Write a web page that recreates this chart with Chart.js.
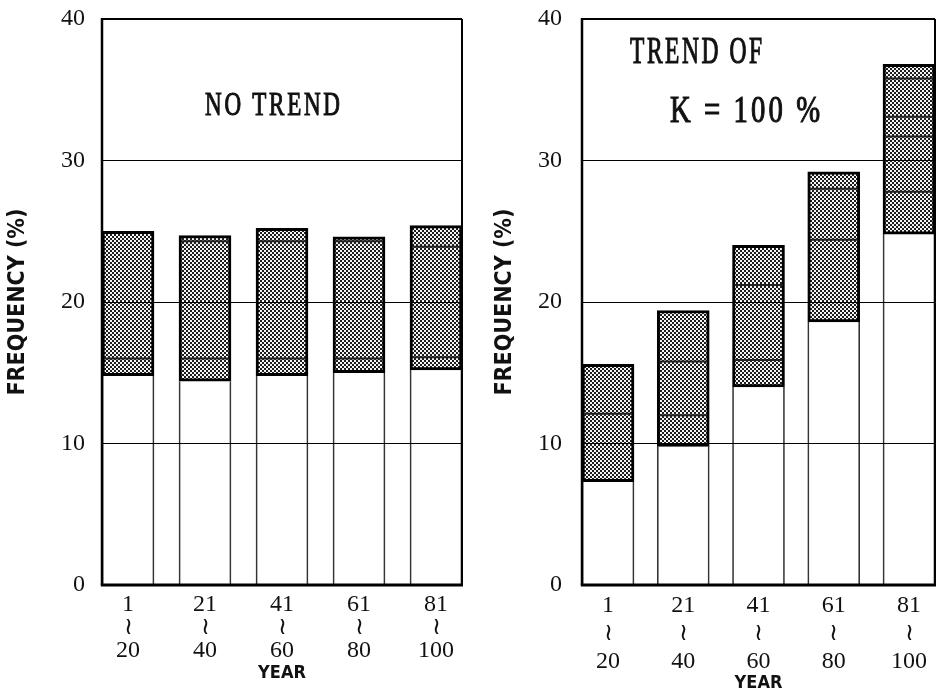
<!DOCTYPE html>
<html><head><meta charset="utf-8">
<script src="https://cdn.jsdelivr.net/npm/chart.js@4"></script>
<style>
html,body{margin:0;padding:0;background:#fff;}
#wrap{position:relative;width:937px;height:693px;overflow:hidden;background:#fff;}
.box{position:absolute;top:0;height:693px;}
#b1{left:0;width:470px;} #b2{left:470px;width:467px;}
</style></head><body>
<div id="wrap">
  <div class="box" id="b1"><canvas id="c1" width="470" height="693"></canvas></div>
  <div class="box" id="b2"><canvas id="c2" width="467" height="693"></canvas></div>
</div>
<script>
// ---- data ----
const periodLabels = [['1','≀','20'],['21','≀','40'],['41','≀','60'],['61','≀','80'],['81','≀','100']];
const yTickValues = [0, 10, 20, 30, 40];
const yTitle = 'FREQUENCY (%)';
const xTitle = 'YEAR';

// left panel: no trend
const noTrendNote = ['NO TREND'];
const noTrendLow  = [14.8, 14.4, 14.8, 15.0, 15.2];
const noTrendHigh = [25.0, 24.7, 25.2, 24.6, 25.4];
const noTrendLineA = [16.0, 16.0, 16.0, 16.0, 16.1];
const noTrendLineB = [null, 24.3, 24.3, 24.3, 23.9];

// right panel: trend K = 100 %
const trendNote = ['TREND OF', 'K = 100 %'];
const trendLow  = [7.3, 9.8, 14.0, 18.6, 24.8];
const trendHigh = [15.6, 19.4, 24.0, 29.2, 36.8];
const trendLineA = [12.1, 12.0, 15.9, 24.4, 27.8];
const trendLineB = [null, 15.8, 21.2, 28.0, 31.7];
const trendLineC = [null, null, null, null, 33.1];
const trendLineD = [null, null, null, null, 35.8];

// ---- styling ----
const TICK_FONT = "'Liberation Serif', 'DejaVu Serif', serif";
const TITLE_FONT = "'DejaVu Sans Condensed', 'DejaVu Sans', sans-serif";
const NOTE_FONT = "'Liberation Serif', 'DejaVu Serif', serif";

function stipple(ctx){
  const c = document.createElement('canvas'); c.width = 4; c.height = 4;
  const g = c.getContext('2d');
  g.fillStyle = '#f4f4f4'; g.fillRect(0,0,4,4);
  g.fillStyle = '#1e1e1e'; g.fillRect(0,0,2,2); g.fillRect(2,2,2,2);
  return ctx.createPattern(c, 'repeat');
}

const framePlugin = {
  id: 'frame',
  afterDraw(chart){
    const {ctx, chartArea: a} = chart;
    ctx.save();
    ctx.strokeStyle = '#000';
    const ln = (x1,y1,x2,y2,w)=>{ctx.lineWidth=w;ctx.beginPath();ctx.moveTo(x1,y1);ctx.lineTo(x2,y2);ctx.stroke();};
    ln(a.left, a.top, a.right, a.top, 2);
    ln(a.right, a.top, a.right, a.bottom, 2);
    ln(a.left, a.top-1, a.left, a.bottom, 2.5);
    ln(a.left-1.2, a.bottom, a.right+1, a.bottom, 3);
    ctx.restore();
  }
};

const notesPlugin = {
  id: 'notes',
  afterDraw(chart, args, opts){
    const {ctx, chartArea: a} = chart;
    (opts.items || []).forEach(it => {
      ctx.save();
      ctx.font = it.size + 'px ' + NOTE_FONT;
      if ('letterSpacing' in ctx) ctx.letterSpacing = it.spacing + 'px';
      ctx.fillStyle = '#111';
      ctx.strokeStyle = '#111';
      ctx.textAlign = 'left';
      ctx.textBaseline = 'alphabetic';
      const m = ctx.measureText(it.text).width - it.spacing;
      ctx.translate(a.left + it.x, a.top + it.y);
      ctx.scale(it.w / m, 1);
      ctx.lineWidth = 1.1;
      ctx.fillText(it.text, 0, 0);
      ctx.strokeText(it.text, 0, 0);
      ctx.restore();
    });
  }
};

function lineMarks(arrays){
  const pts = [];
  arrays.forEach(arr => arr.forEach((v,i) => { if (v !== null) pts.push({x:i, y:v}); }));
  return pts;
}

function makeChart(id, p){
  const canvas = document.getElementById(id);
  const ctx = canvas.getContext('2d');
  const pattern = stipple(ctx);
  return new Chart(ctx, {
    type: 'bar',
    data: {
      datasets: [
        {
          type: 'line', order: 0, showLine: false,
          data: lineMarks(p.lines),
          pointStyle: 'line', pointRadius: 24, pointHoverRadius: 24,
          pointBorderWidth: 2, pointBorderColor: '#222', borderColor: '#222'
        },
        {
          order: 1, grouped: false, barThickness: 52, borderSkipped: false,
          data: p.low.map((lo,i)=>({x:i, y:[lo, p.high[i]]})),
          backgroundColor: pattern, borderColor: '#000', borderWidth: 3
        },
        {
          order: 2, grouped: false, barThickness: 52, borderSkipped: false,
          data: p.low.map((lo,i)=>({x:i, y:[0, lo]})),
          backgroundColor: 'rgba(0,0,0,0)', borderColor: '#333',
          borderWidth: {left:1, right:1, top:0, bottom:0}
        }
      ]
    },
    options: {
      responsive: false, animation: false,
      layout: { autoPadding: false, padding: { left: 0, right: p.padRight, top: 19, bottom: 0 } },
      plugins: { legend: {display:false}, tooltip: {enabled:false}, notes: { items: p.notes } },
      scales: {
        x: {
          type: 'linear', offset: false, min: -p.edge, max: periodLabels.length - 1 + p.edge,
          afterFit(s){ s.height = 108; s.paddingLeft = 0; s.paddingRight = 0; },
          afterBuildTicks(s){ s.ticks = periodLabels.map((_,i)=>({value:i})); },
          ticks: { callback: v => periodLabels[v], padding: p.xPad, maxRotation: 0, autoSkip: false,
                   color: '#111', font: { family: TICK_FONT, size: 24, lineHeight: p.xLine } },
          grid: { display: false, drawTicks: false, offset: false },
          border: { display: false },
          title: { display: true, text: xTitle, color: '#111',
                   font: { family: TITLE_FONT, size: 18, weight: 'bold', lineHeight: 1.0 },
                   padding: { top: 0, bottom: p.xTitlePad } }
        },
        y: {
          min: 0, max: 40,
          afterFit(s){ s.width = p.yWidth; s.paddingTop = 0; s.paddingBottom = 0; },
          afterBuildTicks(s){ s.ticks = yTickValues.map(v=>({value:v})); },
          ticks: { padding: p.yPad, color: '#111', font: { family: TICK_FONT, size: 24 } },
          grid: { color: '#000', lineWidth: 1, drawTicks: false, z: 1 },
          border: { display: false },
          title: { display: true, text: yTitle, color: '#111',
                   font: { family: TITLE_FONT, size: 23, weight: 'bold' }, padding: { top: p.yTitlePad, bottom: 0 } }
        }
      }
    },
    plugins: [framePlugin, notesPlugin]
  });
}

makeChart('c1', {
  low: noTrendLow, high: noTrendHigh, lines: [noTrendLineA, noTrendLineB],
  padRight: 8, yWidth: 102, edge: 26/77, xPad: 8, xLine: 23/24, xTitlePad: 11,
  yPad: 17, yTitlePad: 4,
  notes: [{ text: noTrendNote[0], x: 103, y: 96, w: 135, size: 34, spacing: 4 }]
});

makeChart('c2', {
  low: trendLow, high: trendHigh, lines: [trendLineA, trendLineB, trendLineC, trendLineD],
  padRight: 2, yWidth: 112, edge: 26/75.25, xPad: 7, xLine: 28/24, xTitlePad: 1,
  yPad: 20, yTitlePad: 21,
  notes: [{ text: trendNote[0], x: 48, y: 44, w: 132, size: 37, spacing: 4 },
          { text: trendNote[1], x: 88, y: 103, w: 150, size: 37, spacing: 4 }]
});
</script>
</body></html>
